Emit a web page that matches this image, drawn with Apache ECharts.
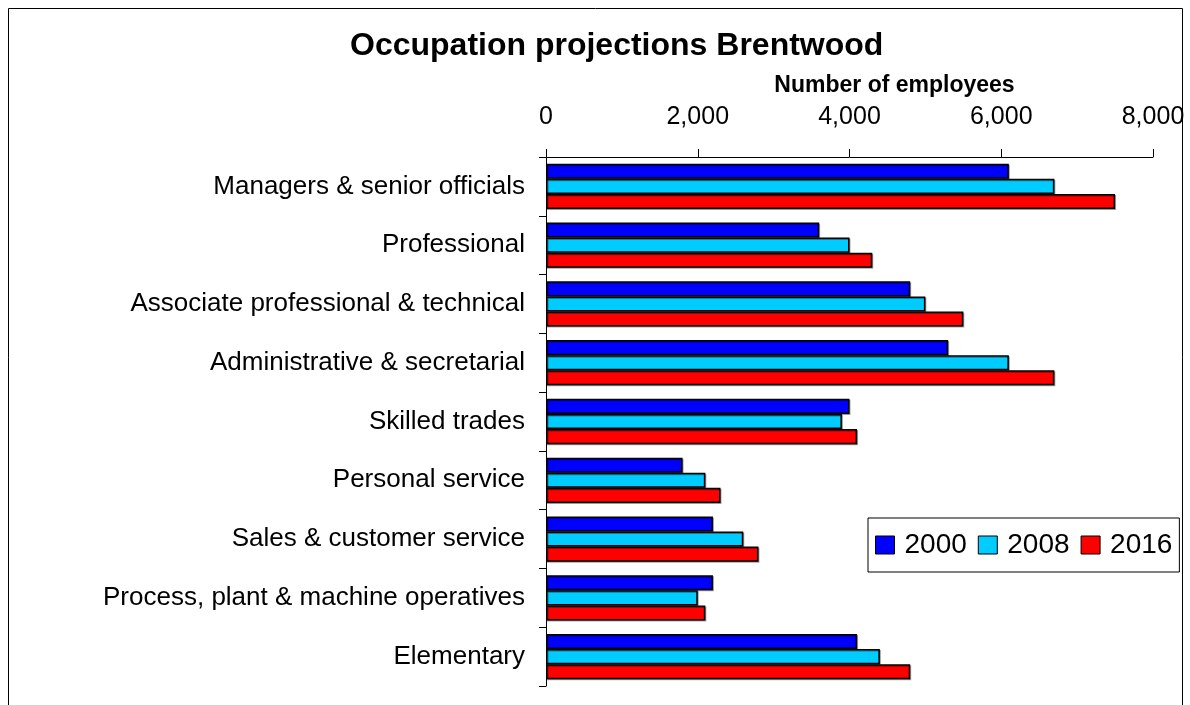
<!DOCTYPE html>
<html>
<head>
<meta charset="utf-8">
<script src="https://cdn.jsdelivr.net/npm/echarts@6/dist/echarts.min.js"></script>
<style>
  html, body { margin: 0; padding: 0; background: #fff; }
  #chart { width: 1190px; height: 705px; }
</style>
</head>
<body>
<div id="chart"></div>
<script>
// Occupation groups, top to bottom
const categories = [
  'Managers & senior officials',
  'Professional',
  'Associate professional & technical',
  'Administrative & secretarial',
  'Skilled trades',
  'Personal service',
  'Sales & customer service',
  'Process, plant & machine operatives',
  'Elementary'
];

// Number of employees per year
const values2000 = [6100, 3600, 4800, 5300, 4000, 1800, 2200, 2200, 4100];
const values2008 = [6700, 4000, 5000, 6100, 3900, 2100, 2600, 2000, 4400];
const values2016 = [7500, 4300, 5500, 6700, 4100, 2300, 2800, 2100, 4800];

const seriesNames = ['2000', '2008', '2016'];
const seriesColors = ['#0000FF', '#00CCFF', '#FF0000'];
const seriesData = [values2000, values2008, values2016];

const FONT = '"Liberation Sans", Arial, sans-serif';

const chart = echarts.init(document.getElementById('chart'), null, { renderer: 'canvas' });

chart.setOption({
  animation: false,
  backgroundColor: '#ffffff',
  textStyle: { fontFamily: FONT },
  title: {
    text: 'Occupation projections Brentwood',
    left: 345,
    top: 25,
    textStyle: { fontFamily: FONT, fontSize: 32, fontWeight: 'bold', color: '#000' }
  },
  graphic: [{
    type: 'rect',
    shape: { x: 8.5, y: 8.5, width: 1174, height: 720 },
    style: { fill: 'none', stroke: '#000', lineWidth: 1 },
    silent: true
  }],
  legend: {
    left: 868,
    top: 518,
    itemWidth: 19,
    itemHeight: 18,
    itemGap: 11,
    padding: [13, 7, 13, 7],
    borderColor: '#000',
    borderWidth: 1,
    borderRadius: 0,
    icon: 'rect',
    itemStyle: { borderColor: '#000', borderWidth: 1 },
    textStyle: { fontFamily: FONT, fontSize: 28, color: '#000', padding: [0, 0, 0, 5] },
    data: seriesNames
  },
  grid: { left: 546, top: 157, right: 37, bottom: 19, containLabel: false },
  xAxis: {
    type: 'value',
    position: 'top',
    min: 0,
    max: 8000,
    interval: 2000,
    name: 'Number of employees',
    nameLocation: 'middle',
    nameGap: 60,
    nameTextStyle: { fontFamily: FONT, fontSize: 23, fontWeight: 'bold', color: '#000', padding: [0, 0, 0, 90] },
    axisLine: { show: true, lineStyle: { color: '#000', width: 1 } },
    axisTick: { show: true, inside: false, length: 8, lineStyle: { color: '#000' } },
    axisLabel: {
      fontFamily: FONT, fontSize: 25, color: '#000', margin: 27,
      formatter: v => v.toLocaleString('en-US')
    },
    splitLine: { show: false }
  },
  yAxis: {
    type: 'category',
    inverse: true,
    data: categories,
    axisLine: { show: true, lineStyle: { color: '#000', width: 1 } },
    axisTick: { show: true, length: 7, alignWithLabel: false, lineStyle: { color: '#000' } },
    axisLabel: { fontFamily: FONT, fontSize: 26, color: '#000', margin: 21 },
    splitLine: { show: false }
  },
  series: seriesNames.map((name, i) => ({
    name: name,
    type: 'bar',
    data: seriesData[i],
    barGap: '0%',
    barCategoryGap: '23%',
    itemStyle: {
      color: seriesColors[i],
      borderColor: '#000',
      borderWidth: 1.5,
      shadowColor: 'rgba(0,0,0,0.35)',
      shadowOffsetX: 1,
      shadowOffsetY: 1
    }
  }))
});
</script>
</body>
</html>
